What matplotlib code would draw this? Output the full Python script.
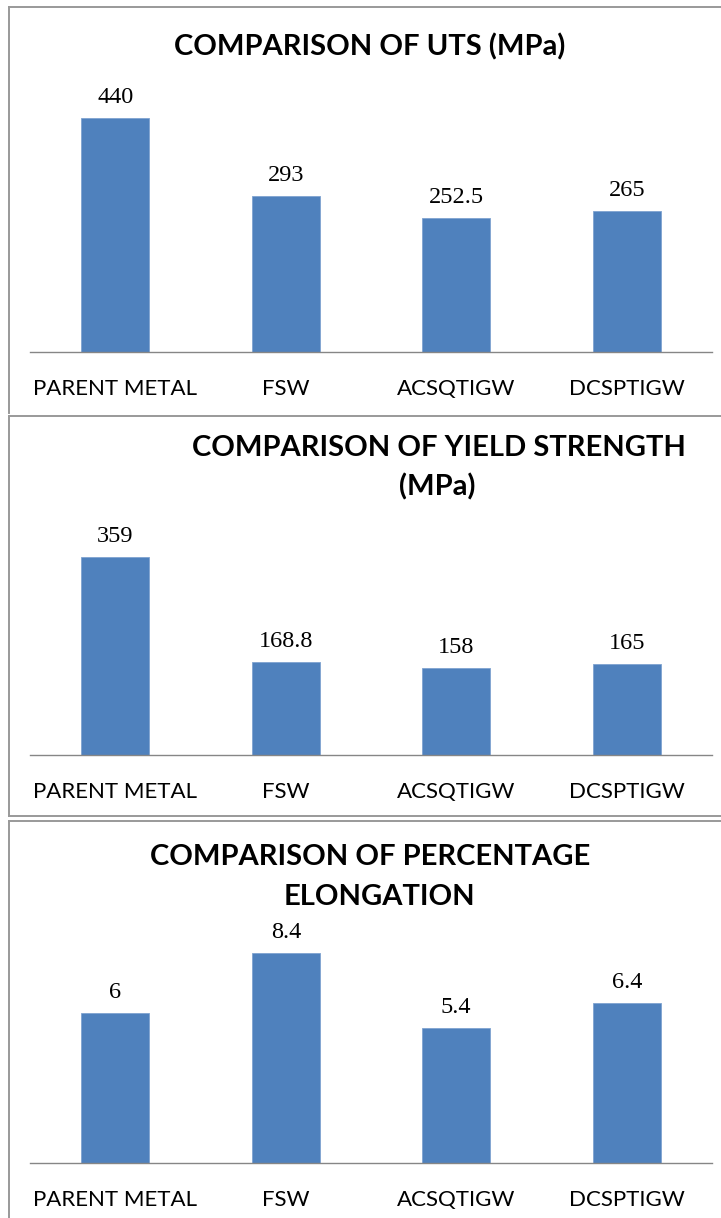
import matplotlib
matplotlib.use("Agg")
import matplotlib.pyplot as plt
from matplotlib.lines import Line2D

W, H = 721, 1218

categories = ["PARENT METAL", "FSW", "ACSQTIGW", "DCSPTIGW"]
uts = [440, 293, 252.5, 265]
yield_strength = [359, 168.8, 158, 165]
elongation = [6, 8.4, 5.4, 6.4]

uts_labels = ["440", "293", "252.5", "265"]
yield_labels = ["359", "168.8", "158", "165"]
elong_labels = ["6", "8.4", "5.4", "6.4"]

BAR = "#4F81BD"
AXIS = "#868686"
FRAME = "#999999"
SANS = "Lato"
SERIF = "Liberation Serif"

fig = plt.figure(figsize=(W / 100, H / 100), dpi=100)


def fx(px):
    return px / W


def fy(py):
    return 1 - py / H


def panel(top_px, base_px, ymax, values, labels):
    # axes box in pixel coordinates, measured from the top-left corner
    ax = fig.add_axes([fx(30), fy(base_px), fx(712 - 30), (base_px - top_px) / H])
    x = range(len(categories))
    ax.bar(x, values, width=0.4, color=BAR, edgecolor="#7FA3D0", linewidth=0.6)
    ax.set_xlim(-0.5, len(categories) - 0.5)
    ax.set_ylim(0, ymax)
    for xi, v, t in zip(x, values, labels):
        ax.annotate(t, (xi, v), xytext=(0, 7), textcoords="offset points",
                    ha="center", va="bottom", fontsize=17.5, family=SERIF)
    ax.set_xticks(list(x))
    ax.set_xticklabels(categories, fontsize=16, family=SANS)
    ax.tick_params(axis="x", length=0, pad=19.5)
    ax.set_yticks([])
    for s in ("top", "right", "left"):
        ax.spines[s].set_visible(False)
    ax.spines["bottom"].set_color(AXIS)
    ax.spines["bottom"].set_linewidth(1.0)
    ax.patch.set_alpha(0)
    return ax


def title(text, cx, cy):
    fig.text(fx(cx), fy(cy), text, ha="center", va="center",
             fontsize=21, fontweight="bold", family=SANS)


def frame_line(x0, y0, x1, y1):
    fig.add_artist(Line2D([fx(x0), fx(x1)], [fy(y0), fy(y1)],
                          color=FRAME, linewidth=1.4, transform=fig.transFigure))


# panel borders (right side runs off the page)
frame_line(9, 7, 721, 7)
frame_line(9, 7, 9, 413)
frame_line(9, 416, 721, 416)
frame_line(9, 416, 9, 816)
frame_line(9, 816, 721, 816)
frame_line(9, 821, 721, 821)
frame_line(9, 821, 9, 1218)

panel(70, 352, 282 / 0.5318, uts, uts_labels)
title("COMPARISON OF UTS (MPa)", 370, 47)

panel(520, 755, 235 / 0.5515, yield_strength, yield_labels)
title("COMPARISON OF YIELD STRENGTH", 439, 448)
title("(MPa)", 437, 487)

panel(920, 1163, 243 / 25.0, elongation, elong_labels)
title("COMPARISON OF PERCENTAGE", 370, 857)
title("ELONGATION", 379, 897)

fig.savefig("out.png", dpi=100)
